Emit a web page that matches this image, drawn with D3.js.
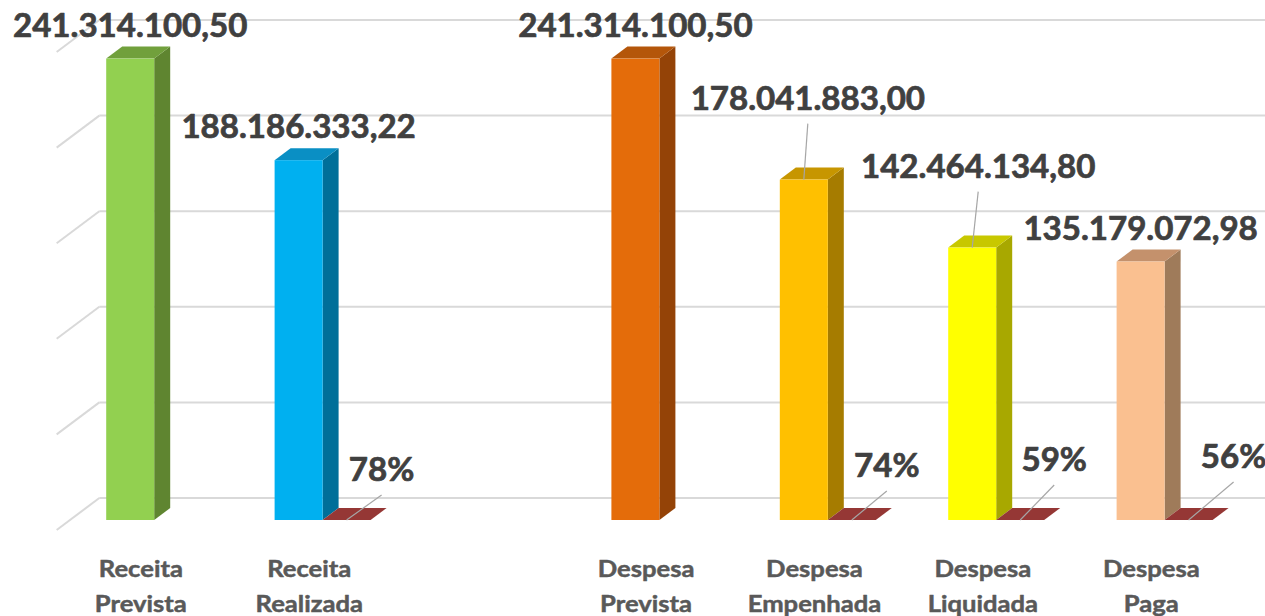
<!DOCTYPE html>
<html>
<head>
<meta charset="utf-8">
<script src="https://cdn.jsdelivr.net/npm/d3@7"></script>
<style>
  html, body { margin: 0; padding: 0; background: #ffffff; }
  svg { display: block; }
</style>
</head>
<body>
<svg id="chart" width="1265" height="616"></svg>
<script>
// ---------------- data ----------------
const categories = ["Receita Prevista", "Receita Realizada", "", "Despesa Prevista", "Despesa Empenhada", "Despesa Liquidada", "Despesa Paga"];
const values = [241314100.50, 188186333.22, null, 241314100.50, 178041883.00, 142464134.80, 135179072.98];
const valueLabels = ["241.314.100,50", "188.186.333,22", "", "241.314.100,50", "178.041.883,00", "142.464.134,80", "135.179.072,98"];
const percents = [null, 0.78, null, null, 0.74, 0.59, 0.56];
const percentLabels = ["", "78%", "", "", "74%", "59%", "56%"];
const yTicks = [0, 50000000, 100000000, 150000000, 200000000, 250000000];

// ---------------- styles / layout ----------------
const frontColors = ["#92D050", "#00B0F0", "#ffffff", "#E46C0A", "#FFC000", "#FFFF00", "#FAC090"];
const topColors   = ["#71A03C", "#0A8FC4", "#ffffff", "#B4560A", "#C79600", "#C8C800", "#C4916C"];
const sideColors  = ["#5F8530", "#006F99", "#ffffff", "#944307", "#A67C00", "#A8A800", "#9F7B5A"];
const pctTop = "#953735";

// offsets of moved labels (dx, dy) relative to their default spot
const valueLabelShift = [[0,0],[0,0],[0,0],[0,0],[4,-48],[6,-48],[0,0]];
const pctLabelShift   = [[0,0],[35,-39],[0,0],[0,0],[35,-43],[34,-49],[45,-52]];

const svg = d3.select("#chart");
const W = 1265, H = 616;
const baseY = 520;          // bar front plane floor
const left = 70, right = 1248.8;
const depthX = 16, depthY = 12;              // bar depth
const backDY = 22, backDX = backDY / 0.75;   // back wall offset from bar front plane
const frontDY = 10, frontDX = frontDY / 0.75; // floor front edge offset

const y = d3.scaleLinear().domain([0, 250000000]).range([baseY, baseY - 478]);
const x0 = d3.scaleBand().domain(d3.range(categories.length)).range([left, right])
  .paddingInner(0.43).paddingOuter(0.215);
const x1 = d3.scaleBand().domain([0, 1]).range([0, x0.bandwidth()]);

// ---------------- walls / gridlines ----------------
const grid = svg.append("g").attr("stroke", "#D9D9D9").attr("stroke-width", 2).attr("fill", "none");
yTicks.forEach(t => {
  const yb = y(t) - backDY;
  grid.append("line")
    .attr("x1", left + backDX).attr("y1", yb)
    .attr("x2", W + 20).attr("y2", yb);
  grid.append("line")
    .attr("x1", left - frontDX).attr("y1", yb + backDY + frontDY)
    .attr("x2", left + backDX).attr("y2", yb);
});

// ---------------- bars ----------------
const bars = svg.append("g");
const fontFam = "Lato, 'Open Sans', sans-serif";

function drawBox(g, bx, bw, ytop, front, top, side) {
  const yb = baseY;
  g.append("polygon")
    .attr("points", [[bx + bw, yb], [bx + bw + depthX, yb - depthY], [bx + bw + depthX, ytop - depthY], [bx + bw, ytop]].map(p => p.join(",")).join(" "))
    .attr("fill", side);
  g.append("polygon")
    .attr("points", [[bx, ytop], [bx + depthX, ytop - depthY], [bx + bw + depthX, ytop - depthY], [bx + bw, ytop]].map(p => p.join(",")).join(" "))
    .attr("fill", top);
  if (yb - ytop > 0.5) {
    g.append("rect").attr("x", bx).attr("y", ytop).attr("width", bw).attr("height", yb - ytop).attr("fill", front);
  }
}

categories.forEach((c, i) => {
  const g = bars.append("g");
  if (values[i] != null) {
    drawBox(g, x0(i) + x1(0), x1.bandwidth(), y(values[i]), frontColors[i], topColors[i], sideColors[i]);
  }
  if (percents[i] != null) {
    drawBox(g, x0(i) + x1(1), x1.bandwidth(), y(percents[i]), pctTop, pctTop, pctTop);
  }
});

// ---------------- labels ----------------
const labels = svg.append("g");
const leaders = svg.append("g").attr("stroke", "#A6A6A6").attr("stroke-width", 1.2);

function addText(txt, cx, by, size, color, sx, sw) {
  labels.append("text")
    .attr("transform", `translate(${cx},${by}) scale(${sx},1)`)
    .attr("text-anchor", "middle")
    .attr("font-family", fontFam)
    .attr("font-weight", "bold")
    .attr("font-size", size)
    .attr("fill", color)
    .attr("stroke", color)
    .attr("stroke-width", sw)
    .attr("stroke-linejoin", "round")
    .text(txt);
}

categories.forEach((c, i) => {
  if (values[i] != null) {
    const cx = x0(i) + x1(0) + x1.bandwidth() / 2;
    const ytop = y(values[i]);
    const s = valueLabelShift[i];
    const lx = cx + s[0], ly = ytop - 22 + s[1];
    addText(valueLabels[i], lx, ly, 31.5, "#404040", 1.05, 0.7);
    if (s[0] !== 0 || s[1] !== 0) {
      leaders.append("line").attr("x1", lx).attr("y1", ly + 14).attr("x2", cx).attr("y2", ytop);
    }
  }
  if (percents[i] != null) {
    const cx = x0(i) + x1(1) + x1.bandwidth() / 2;
    const s = pctLabelShift[i];
    const lx = cx + s[0], ly = baseY + s[1];
    addText(percentLabels[i], lx, ly, 31.5, "#404040", 1.05, 0.7);
    leaders.append("line").attr("x1", lx).attr("y1", ly + 14).attr("x2", cx).attr("y2", baseY);
  }
  if (c) {
    const words = c.split(" ");
    const cx = x0(i) + x0.bandwidth() / 2 - frontDX;
    words.forEach((w, k) => addText(w, cx, 577 + k * 35, 23.5, "#595959", 1.09, 0.5));
  }
});
</script>
</body>
</html>
